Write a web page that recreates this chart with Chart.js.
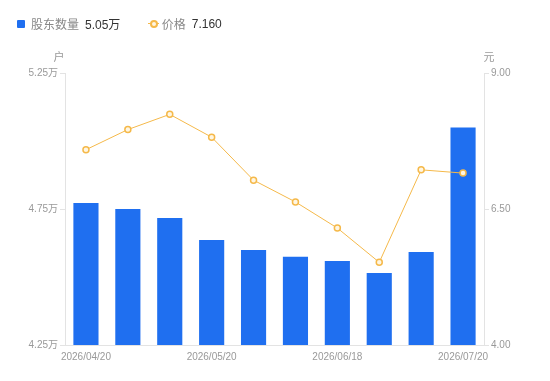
<!DOCTYPE html>
<html>
<head>
<meta charset="utf-8">
<script src="https://cdn.jsdelivr.net/npm/chart.js@4/dist/chart.umd.min.js"></script>
<style>
  body { margin: 0; background: #fff; }
  #wrap { position: relative; width: 550px; height: 381px; }
  #legende { position: absolute; left: 17px; top: 15px; font: 12px "Liberation Sans", "Noto Sans CJK SC", sans-serif; color: #888; white-space: nowrap; }
  #legende span { vertical-align: middle; }
  .kasten { display: inline-block; width: 8px; height: 8px; background: #1f6ff0; border-radius: 1px; margin-right: 6px; }
  .wert { color: #333; margin-left: 6px; font-size: 12px; }
  .punkt { display: inline-block; position: relative; width: 11px; height: 8px; margin: 0 3px 0 24px; }
  .punkt:before { content: ""; position: absolute; left: 0; top: 3.5px; width: 11px; height: 1px; background: #f5b94a; }
  .punkt:after { content: ""; position: absolute; left: 2px; top: 0; width: 4px; height: 4px; border: 2px solid #f5b94a; border-radius: 50%; background: #fff6e2; }
</style>
</head>
<body>
<div id="wrap">
  <div id="legende">
    <span class="kasten"></span><span>股东数量</span><span class="wert" id="wert1"></span>
    <span class="punkt"></span><span>价格</span><span class="wert" id="wert2"></span>
  </div>
  <canvas id="Diagramm" width="550" height="381"></canvas>
</div>
<script>
var datum = ['2026/04/20','2026/04/30','2026/05/10','2026/05/20','2026/05/31','2026/06/10','2026/06/18','2026/06/30','2026/07/10','2026/07/20'];
var aktionaere = [4.772, 4.750, 4.717, 4.636, 4.599, 4.574, 4.559, 4.515, 4.592, 5.05];   // 万户
var preis = [7.59, 7.96, 8.24, 7.82, 7.03, 6.63, 6.15, 5.52, 7.22, 7.16];                 // 元
var linksTicks = [4.25, 4.75, 5.25];
var rechtsTicks = [4.00, 6.50, 9.00];

document.getElementById('wert1').textContent = aktionaere[aktionaere.length-1].toFixed(2) + '万';
document.getElementById('wert2').textContent = preis[preis.length-1].toFixed(3);

var grau = '#e3e3e3';
var schrift = { family: '"Liberation Sans", "Noto Sans CJK SC", sans-serif', size: 10 };

// Einheiten ueber den Achsen
var einheiten = {
  id: 'einheiten',
  afterDraw: function(chart) {
    var ctx = chart.ctx;
    ctx.save();
    ctx.font = '11px "Noto Sans CJK SC", sans-serif';
    ctx.fillStyle = '#999';
    ctx.textAlign = 'center';
    ctx.textBaseline = 'middle';
    ctx.fillText('户', chart.scales.y.right - 6, chart.chartArea.top - 16);
    ctx.fillText('元', chart.scales.y1.left + 5, chart.chartArea.top - 16);
    ctx.restore();
  }
};

const CHART = document.getElementById('Diagramm');

let aktienDiagramm = new Chart(CHART, {
  type: 'bar',
  data: {
    labels: datum,
    datasets: [{
      type: 'line',
      label: '价格',
      data: preis,
      yAxisID: 'y1',
      order: 0,
      borderColor: '#f5b94a',
      borderWidth: 1,
      backgroundColor: '#fff6e2',
      pointRadius: 3,
      pointBorderWidth: 1.5,
      pointBorderColor: '#f5b94a',
      pointBackgroundColor: '#fff6e2',
      tension: 0,
      fill: false
    }, {
      type: 'bar',
      label: '股东数量',
      data: aktionaere,
      yAxisID: 'y',
      order: 1,
      backgroundColor: '#1f6ff0',
      categoryPercentage: 1,
      barPercentage: 0.6
    }]
  },
  options: {
    responsive: false,
    animation: false,
    layout: { padding: { top: 73, left: 0, right: 0, bottom: 0 } },
    plugins: { legend: { display: false }, tooltip: { enabled: false } },
    scales: {
      x: {
        offset: true,
        grid: { display: false, drawTicks: false },
        border: { display: true, color: grau },
        afterFit: function(s) { s.height = 36; },
        ticks: {
          autoSkip: false, maxRotation: 0, padding: 6,
          color: '#999', font: schrift,
          callback: function(v, i) { return i % 3 === 0 ? datum[i] : ''; }
        }
      },
      y: {
        position: 'left',
        min: linksTicks[0], max: linksTicks[linksTicks.length-1],
        afterBuildTicks: function(s) { s.ticks = linksTicks.map(function(v){ return { value: v }; }); },
        afterFit: function(s) { s.width = 65; },
        grid: { drawOnChartArea: false, drawTicks: true, tickLength: 5, color: grau },
        border: { display: true, color: grau },
        ticks: { color: '#999', font: schrift, padding: 2,
          callback: function(v) { return v.toFixed(2) + '万'; } }
      },
      y1: {
        position: 'right',
        min: rechtsTicks[0], max: rechtsTicks[rechtsTicks.length-1],
        afterBuildTicks: function(s) { s.ticks = rechtsTicks.map(function(v){ return { value: v }; }); },
        afterFit: function(s) { s.width = 66; },
        grid: { drawOnChartArea: false, drawTicks: true, tickLength: 5, color: grau },
        border: { display: true, color: grau },
        ticks: { color: '#999', font: schrift, padding: 2,
          callback: function(v) { return v.toFixed(2); } }
      }
    }
  },
  plugins: [einheiten]
});
</script>
</body>
</html>
